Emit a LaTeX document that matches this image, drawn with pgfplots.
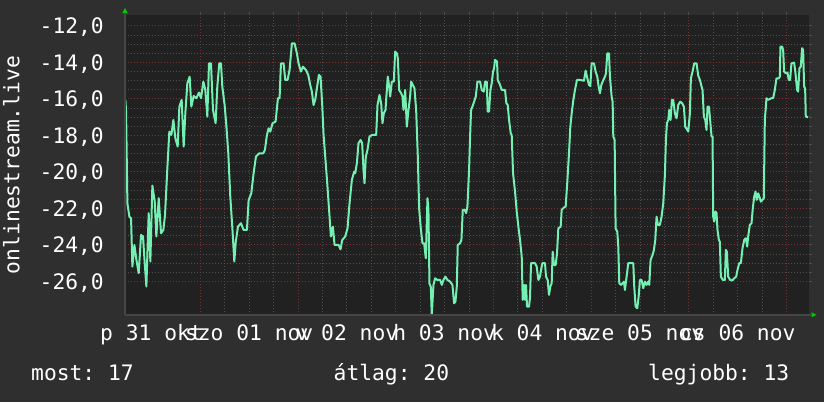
\documentclass[border=0pt]{standalone}
\usepackage{fontspec}
\setmainfont{DejaVu Sans Mono}
\usepackage{pgfplots}
\usepackage{pgfplotstable}
\pgfplotsset{compat=1.18}
\frenchspacing

\definecolor{outerbg}{RGB}{47,47,47}
\definecolor{plotbg}{RGB}{33,33,33}
\definecolor{mgrid}{RGB}{125,50,50}
\definecolor{ngrid}{RGB}{80,80,80}
\definecolor{axisgray}{RGB}{70,70,70}
\definecolor{templine}{RGB}{115,240,178}
\definecolor{arrowgreen}{RGB}{0,204,0}
\newcommand{\rrdfont}{\fontsize{21.3}{25}\selectfont}

% hours since Oct 31 00:00, temperature
\pgfplotstableread{
h v
5.60 -16.05
5.76 -16.69
6.09 -21.72
6.58 -22.45
6.99 -22.54
7.31 -25.19
7.81 -24.00
8.30 -24.82
8.87 -25.55
9.44 -23.45
9.93 -23.54
10.26 -24.73
10.75 -26.28
11.32 -22.26
11.73 -24.91
12.22 -20.75
12.80 -21.63
13.20 -23.54
13.78 -21.44
14.35 -23.36
14.92 -23.18
15.33 -22.36
15.90 -19.80
16.39 -17.79
16.89 -17.97
17.38 -17.15
17.87 -18.16
18.44 -18.61
18.85 -16.42
19.42 -16.05
19.91 -18.61
20.32 -16.79
20.81 -15.14
21.38 -14.78
21.79 -16.42
22.37 -15.84
23.02 -15.96
23.67 -15.65
24.17 -15.96
24.74 -15.05
25.23 -15.51
25.72 -16.97
26.13 -14.05
26.62 -14.05
27.11 -16.60
27.76 -17.33
28.17 -15.32
28.66 -14.05
29.07 -14.05
29.40 -15.32
29.97 -16.33
30.38 -17.42
30.87 -18.98
31.36 -21.35
31.85 -23.00
32.35 -24.91
32.70 -23.85
33.24 -23.00
33.98 -22.81
34.63 -23.18
35.45 -23.18
35.86 -21.55
36.52 -21.17
37.09 -20.07
37.66 -19.16
38.48 -18.98
39.46 -18.98
39.87 -18.79
40.36 -17.97
40.77 -17.61
41.18 -17.79
41.75 -17.33
42.49 -17.24
43.06 -15.96
43.47 -15.96
43.80 -14.05
44.45 -14.05
44.86 -14.96
45.43 -14.96
45.92 -14.41
46.50 -12.95
47.15 -12.95
47.72 -13.50
48.13 -14.05
48.70 -14.50
49.20 -14.23
49.93 -14.41
50.50 -14.68
50.99 -15.23
51.40 -15.60
51.81 -16.33
52.22 -16.05
52.63 -15.42
53.12 -14.68
53.53 -14.78
53.94 -16.33
54.27 -17.97
54.68 -19.16
55.17 -20.62
55.74 -22.45
56.07 -23.54
56.56 -23.00
56.97 -24.00
57.95 -24.00
58.44 -24.24
58.85 -23.73
59.58 -23.54
60.16 -23.09
60.65 -21.72
61.22 -20.44
61.79 -19.98
62.04 -20.07
62.45 -19.53
62.85 -18.43
63.35 -18.25
63.75 -18.43
64.08 -19.89
64.33 -20.62
64.65 -19.16
65.06 -18.79
65.55 -18.06
66.21 -17.97
67.19 -17.97
67.52 -16.33
68.01 -15.78
68.42 -16.24
68.74 -17.33
69.07 -16.79
69.48 -16.60
69.81 -15.51
70.05 -14.78
70.38 -15.32
70.63 -15.87
71.04 -15.05
71.53 -15.05
71.85 -13.41
72.26 -13.50
72.51 -13.77
72.83 -15.51
73.33 -15.69
73.65 -15.87
73.90 -16.60
74.31 -15.51
74.72 -17.52
75.13 -16.60
75.53 -15.87
75.78 -15.05
76.19 -15.23
76.60 -15.42
77.01 -16.60
77.42 -19.16
77.74 -21.99
78.15 -23.09
78.56 -23.91
78.97 -23.91
79.38 -24.73
79.79 -21.44
80.03 -22.08
80.28 -26.12
80.61 -26.30
80.85 -27.84
81.26 -26.19
81.67 -25.83
82.24 -25.92
82.90 -25.92
83.31 -26.19
83.71 -25.92
84.20 -25.74
84.70 -25.92
85.35 -26.01
85.92 -26.19
86.33 -27.20
86.66 -27.11
86.99 -26.28
87.23 -24.00
87.80 -23.91
88.13 -23.73
88.46 -22.08
88.95 -22.08
89.28 -22.26
89.60 -21.90
90.01 -19.89
90.26 -18.06
90.50 -16.60
90.83 -16.42
91.24 -16.15
91.65 -15.87
92.06 -15.05
92.71 -15.05
93.12 -15.51
93.61 -15.60
93.94 -15.05
94.35 -15.05
94.59 -16.69
94.92 -16.69
95.25 -15.51
95.57 -15.14
95.90 -14.50
96.15 -14.32
96.39 -13.86
96.88 -13.95
97.05 -14.96
97.62 -15.23
98.03 -15.51
98.85 -15.51
99.17 -16.24
99.50 -16.33
99.83 -17.15
100.24 -17.88
100.48 -17.97
100.81 -20.07
101.30 -21.08
101.71 -22.17
102.12 -23.00
102.53 -23.73
102.94 -24.64
103.18 -27.01
103.51 -26.19
103.75 -27.01
104.00 -26.19
104.24 -27.38
104.74 -27.38
104.98 -26.85
105.23 -25.00
106.21 -25.00
106.62 -25.19
107.03 -25.92
107.43 -25.74
107.68 -25.37
108.01 -25.00
108.66 -25.00
108.91 -25.74
109.32 -25.92
109.64 -26.74
109.97 -26.28
110.30 -26.10
110.54 -24.37
110.87 -25.10
111.28 -25.10
111.61 -24.46
111.93 -23.09
112.51 -23.00
112.75 -22.08
113.32 -21.95
113.73 -21.90
114.14 -20.53
114.55 -18.98
114.88 -17.52
115.21 -16.79
115.62 -16.05
116.02 -15.51
116.51 -14.96
117.25 -14.96
118.23 -15.00
118.64 -14.45
119.05 -14.87
119.46 -15.23
119.79 -15.29
120.11 -14.05
120.69 -14.05
121.09 -14.50
121.50 -14.78
121.83 -15.32
122.16 -15.69
122.49 -15.23
122.98 -14.96
123.39 -14.78
123.63 -14.59
123.96 -13.50
124.37 -13.50
124.61 -14.78
125.02 -15.87
125.27 -16.15
125.43 -18.06
125.76 -18.25
126.00 -23.09
126.41 -23.27
126.66 -24.09
126.90 -26.10
127.31 -26.19
127.72 -26.10
128.05 -26.01
128.29 -26.47
128.70 -25.74
129.11 -25.00
130.34 -25.00
130.58 -26.28
130.91 -27.38
131.32 -27.47
131.65 -26.85
131.97 -25.92
132.38 -25.92
132.79 -26.37
133.20 -26.01
133.61 -26.19
134.02 -26.01
134.26 -26.19
134.59 -24.82
135.08 -24.55
135.41 -24.27
135.74 -23.73
136.06 -22.45
136.39 -22.90
136.88 -22.90
137.29 -22.45
137.70 -21.72
138.11 -20.16
138.35 -18.25
138.60 -17.33
138.93 -17.15
139.17 -16.60
139.50 -17.15
139.83 -16.05
140.15 -16.05
140.56 -16.79
140.97 -17.06
141.38 -16.33
141.87 -16.15
142.36 -16.24
142.77 -16.42
143.10 -17.52
143.51 -17.66
143.84 -17.79
144.24 -16.79
144.49 -14.87
144.90 -14.50
145.31 -14.05
145.88 -14.05
146.29 -14.72
146.70 -14.96
147.11 -15.32
147.35 -15.51
147.68 -16.97
148.01 -17.15
148.33 -17.70
148.58 -16.42
148.91 -16.42
149.15 -16.97
149.56 -18.06
149.81 -18.06
149.97 -22.45
150.21 -22.72
150.54 -22.17
150.79 -22.26
151.03 -23.18
151.36 -23.73
151.60 -23.82
151.85 -25.74
152.34 -25.92
152.83 -25.92
153.08 -24.27
153.32 -24.37
153.65 -25.74
154.14 -25.92
154.63 -25.95
155.12 -25.83
155.61 -25.74
155.94 -25.37
156.35 -25.00
156.76 -25.00
157.17 -24.18
157.58 -23.73
157.99 -23.63
158.31 -24.09
158.56 -23.54
158.97 -22.90
159.38 -22.81
159.70 -21.99
160.03 -21.37
160.36 -21.08
160.68 -21.53
161.01 -21.17
161.34 -21.37
161.67 -21.63
162.08 -21.53
162.40 -21.44
162.65 -17.15
163.06 -15.96
163.47 -16.05
164.28 -15.96
164.69 -15.96
165.10 -15.51
165.51 -14.87
166.08 -14.87
166.33 -14.78
166.49 -13.13
166.90 -13.13
167.15 -13.32
167.39 -14.50
167.80 -14.59
168.21 -14.56
168.54 -14.96
168.86 -14.96
169.19 -14.05
169.85 -14.01
170.18 -14.59
170.58 -15.51
170.83 -15.60
171.16 -14.32
171.48 -14.23
171.81 -13.22
172.06 -13.32
172.30 -15.32
172.55 -15.42
172.71 -16.97
173.28 -17.00
}\tempdata

\begin{document}
\begin{tikzpicture}[font=\rrdfont]
\fill[outerbg] (0pt,0pt) rectangle (824pt,402pt);
\useasboundingbox (0pt,0pt) rectangle (824pt,402pt);
\begin{axis}[
  at={(125pt,87pt)}, anchor=south west,
  scale only axis, width=684pt, height=300pt,
  xmin=5.5, xmax=173.5, ymin=-27.84, ymax=-11.40,
  axis background/.style={fill=plotbg},
  axis line style={draw=none},
  xtick={24,48,...,168}, xticklabels={},
  minor x tick num=3,
  extra x ticks={12,36,60,84,108,132,156},
  extra x tick labels={p 31 okt, szo 01 nov, v 02 nov, h 03 nov, k 04 nov, sze 05 nov, cs 06 nov},
  extra x tick style={grid=none, major tick length=0pt},
  ytick={-26,-24,...,-12},
  yticklabels={{-26,0},{-24,0},{-22,0},{-20,0},{-18,0},{-16,0},{-14,0},{-12,0}},
  minor y tick num=3,
  grid=both,
  major grid style={mgrid, dash pattern=on 1pt off 2pt, line width=1pt},
  minor grid style={ngrid, dash pattern=on 1pt off 2pt, line width=1pt},
  xtick pos=upper, xticklabel pos=lower,
  ytick pos=right, yticklabel pos=left,
  tick align=outside, major tick length=3pt, minor tick length=3pt,
  every tick/.style={ngrid, line width=1pt},
  tick label style={font=\rrdfont, text=white, inner sep=0pt},
  xticklabel style={anchor=base, yshift=-25pt},
  yticklabel style={anchor=base east, xshift=-18pt, yshift=-7.8pt},
]
\addplot[templine, line width=2pt, line join=round] table[x=h, y=v] {\tempdata};
\end{axis}
\draw[axisgray, line width=1.5pt] (125pt,87pt) -- (125pt,388pt);
\draw[axisgray, line width=1.5pt] (125pt,87pt) -- (811pt,87pt);
\fill[arrowgreen] (122.3pt,388.7pt) -- (127.7pt,388.7pt) -- (125pt,394pt) -- cycle;
\fill[arrowgreen] (811.5pt,89.7pt) -- (811.5pt,84.7pt) -- (816.5pt,87.2pt) -- cycle;
\node[rotate=90, anchor=base, inner sep=0pt, text=white] at (19.5pt,237pt) {onlinestream.live};
\node[anchor=base west, inner sep=0pt, text=white] at (31pt,22pt) {most: 17};
\node[anchor=base west, inner sep=0pt, text=white] at (333.5pt,22pt) {átlag: 20};
\node[anchor=base west, inner sep=0pt, text=white] at (648pt,22pt) {legjobb: 13};
\end{tikzpicture}
\end{document}
